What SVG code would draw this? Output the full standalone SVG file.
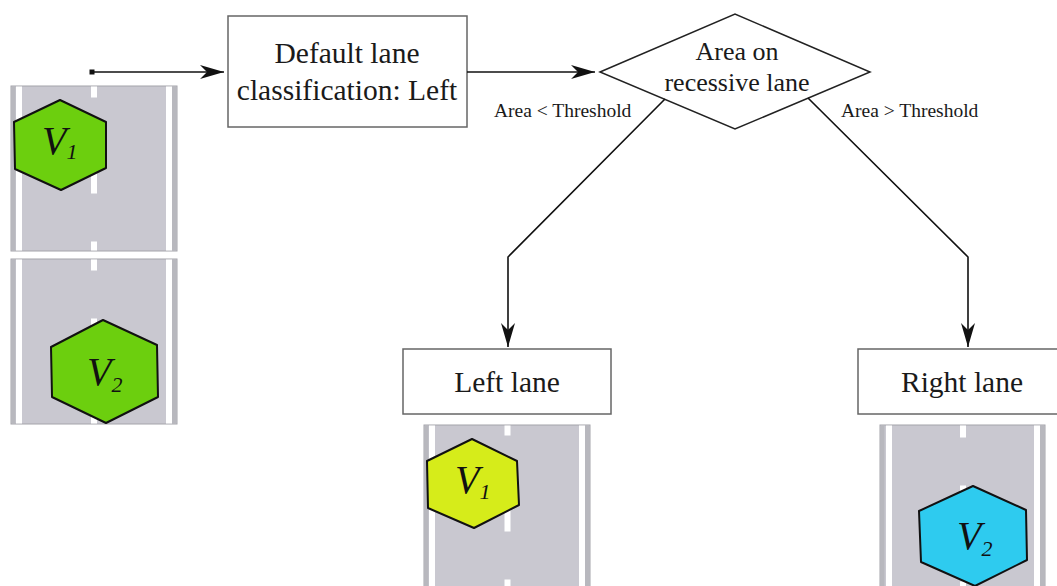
<svg xmlns="http://www.w3.org/2000/svg" width="1057" height="586" viewBox="0 0 1057 586">
  <style>
    .road { fill: #c9c8d0; stroke: #a4a4aa; stroke-width: 1; }
    .shoulder { fill: #b8b8be; }
    .edge { fill: #ffffff; }
    .dash { stroke: #ffffff; stroke-width: 6; stroke-dasharray: 48 48; fill: none; }
    .hex { stroke: #111111; stroke-width: 2; stroke-linejoin: round; }
    .green { fill: #6ccf0e; }
    .yellow { fill: #d6ec1a; }
    .blue { fill: #2ecbef; }
    .vl { font-family: "Liberation Serif", "Times New Roman", serif; font-style: italic; font-size: 40px; fill: #111111; }
    .sub { font-size: 22px; }
    .box { fill: #ffffff; stroke: #666666; stroke-width: 1.5; }
    .lbl { font-family: "Liberation Serif", "Times New Roman", serif; font-size: 29.5px; fill: #1a1a1a; text-anchor: middle; }
    .dlbl { font-family: "Liberation Serif", "Times New Roman", serif; font-size: 26px; fill: #1a1a1a; text-anchor: middle; }
    .elbl { font-family: "Liberation Serif", "Times New Roman", serif; font-size: 19.5px; fill: #1a1a1a; }
    .conn { stroke: #111111; stroke-width: 1.6; fill: none; marker-end: url(#arrow); }
  </style>
  <defs>
    <marker id="arrow" markerUnits="userSpaceOnUse" markerWidth="30" markerHeight="20" viewBox="-26 -10 28 20" refX="0" refY="0" orient="auto">
      <path d="M0,0 L-24,-7 L-17,0 L-24,7 Z" fill="#111111"/>
    </marker>
  </defs>

  <rect width="1057" height="586" fill="#ffffff"/>

  <!-- input roads -->
  <g id="road-input-1">
    <rect class="road" x="11" y="86" width="166" height="165"/>
    <rect class="shoulder" x="11.5" y="86.5" width="4" height="164"/>
    <rect class="shoulder" x="172" y="86.5" width="4.5" height="164"/>
    <rect class="edge" x="16" y="86.5" width="6" height="164"/>
    <rect class="edge" x="166" y="86.5" width="6" height="164"/>
    <line class="dash" x1="94" y1="86.5" x2="94" y2="250.5" stroke-dashoffset="37"/>
    <polygon class="hex green" points="60,100 106,122 106,168 61,190 15,169 14,122"/>
    <text class="vl" x="42" y="154">V<tspan class="sub" dy="5">1</tspan></text>
  </g>

  <g id="road-input-2">
    <rect class="road" x="11" y="259" width="166" height="165"/>
    <rect class="shoulder" x="11.5" y="259.5" width="4" height="164"/>
    <rect class="shoulder" x="172" y="259.5" width="4.5" height="164"/>
    <rect class="edge" x="16" y="259.5" width="6" height="164"/>
    <rect class="edge" x="166" y="259.5" width="6" height="164"/>
    <line class="dash" x1="94" y1="259.5" x2="94" y2="423.5" stroke-dashoffset="37"/>
    <polygon class="hex green" points="103,320 157,345 158,397 106,423 52,397 51,347"/>
    <text class="vl" x="87" y="385">V<tspan class="sub" dy="7">2</tspan></text>
  </g>

  <!-- decision flow -->
  <g id="node-default">
    <rect class="box" x="228" y="16" width="239" height="111"/>
    <text class="lbl" x="347" y="63">Default lane</text>
    <text class="lbl" x="347" y="100">classification: Left</text>
  </g>

  <g id="node-decision">
    <polygon points="600,72 735,14 870,72 735,129" fill="#ffffff" stroke="#222222" stroke-width="1.5"/>
    <text class="dlbl" x="737" y="60">Area on</text>
    <text class="dlbl" x="737" y="91">recessive lane</text>
  </g>

  <g id="node-left-lane">
    <rect class="box" x="403" y="349" width="208" height="65"/>
    <text class="lbl" x="507" y="392">Left lane</text>
  </g>

  <g id="node-right-lane">
    <rect class="box" x="858" y="349" width="208" height="65"/>
    <text class="lbl" x="962" y="392">Right lane</text>
  </g>

  <!-- output roads -->
  <g id="road-left-result">
    <rect class="road" x="424" y="425" width="166" height="170"/>
    <rect class="shoulder" x="424.5" y="425.5" width="4" height="170"/>
    <rect class="shoulder" x="585" y="425.5" width="4.5" height="170"/>
    <rect class="edge" x="429" y="425.5" width="6" height="170"/>
    <rect class="edge" x="579" y="425.5" width="6" height="170"/>
    <line class="dash" x1="507.5" y1="425.5" x2="507.5" y2="595" stroke-dashoffset="38"/>
    <polygon class="hex yellow" points="472,439 517,461 519,505 474,528 428,508 427,461"/>
    <text class="vl" x="455" y="493">V<tspan class="sub" dy="6">1</tspan></text>
  </g>

  <g id="road-right-result">
    <rect class="road" x="880" y="425" width="165" height="170"/>
    <rect class="shoulder" x="880.5" y="425.5" width="4" height="170"/>
    <rect class="shoulder" x="1040" y="425.5" width="4.5" height="170"/>
    <rect class="edge" x="886" y="425.5" width="6" height="170"/>
    <rect class="edge" x="1034" y="425.5" width="6" height="170"/>
    <line class="dash" x1="963" y1="425.5" x2="963" y2="595" stroke-dashoffset="36"/>
    <polygon class="hex blue" points="973,486 1026,510 1027,560 975,586 921,562 919,511"/>
    <text class="vl" x="957" y="549">V<tspan class="sub" dy="7">2</tspan></text>
  </g>

  <!-- connectors -->
  <g id="connectors">
    <rect x="89.5" y="69.5" width="5" height="5" fill="#111111"/>
    <path class="conn" d="M92,72 L224,72"/>
    <path class="conn" d="M467,72 L595,72"/>
    <path class="conn" d="M665,99 L508,257 L508,347"/>
    <path class="conn" d="M808,98 L968,257 L968,347"/>
    <text class="elbl" x="494" y="117">Area &lt; Threshold</text>
    <text class="elbl" x="841" y="117">Area &gt; Threshold</text>
  </g>
</svg>
